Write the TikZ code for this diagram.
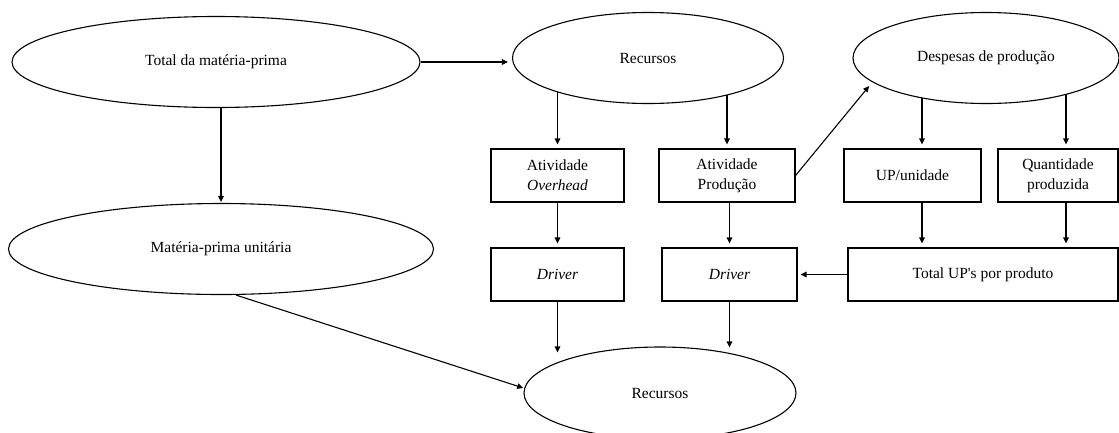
\documentclass[tikz,border=0pt]{standalone}
\usepackage{fontspec}
\setmainfont{Liberation Serif}[Ligatures=TeXOff]
\usetikzlibrary{shapes.geometric,arrows.meta,calc}
\pgfdeclarelayer{bg}
\pgfsetlayers{bg,main}
\begin{document}
\begin{tikzpicture}[x=1pt,y=-1pt,
  every node/.style={font=\fontsize{15.5}{20}\selectfont},
  oval/.style={draw, ellipse, fill=white, inner sep=0pt, line width=1.1pt},
  box/.style={draw, rectangle, fill=white, inner sep=0pt, align=center, line width=1.1pt, minimum height=53pt},
  arr/.style={-{Triangle[length=6pt,width=5.5pt]}, line width=1.1pt, shorten >=4pt}]
\useasboundingbox (0,0) rectangle (1119,432);
% ellipses
\node[oval, minimum width=408pt, minimum height=91pt] (e1) at (216,62) {Total da matéria-prima};
\node[oval, minimum width=271pt, minimum height=91pt] (e2) at (648,58) {Recursos};
\node[oval, minimum width=266pt, minimum height=91pt] (e3) at (986,58) {Despesas de produção};
\node[oval, minimum width=425pt, minimum height=91pt] (e4) at (221,249) {Matéria-prima unitária};
\node[oval, minimum width=272pt, minimum height=92pt] (e5) at (660,393) {Recursos};
% boxes
\node[box, minimum width=133pt] (a) at (557.5,175.5) {Atividade\\\textit{Overhead}};
\node[box, minimum width=136pt] (b) at (727,175.5) {Atividade\\Produção};
\node[box, minimum width=137pt] (c) at (912.5,175.5) {\raisebox{-4pt}{UP/unidade}};
\node[box, minimum width=120pt] (d) at (1058,175.5) {Quantidade\\produzida};
\node[box, minimum width=133pt] (d1) at (557.5,274.5) {\raisebox{-4pt}{\textit{Driver}}};
\node[box, minimum width=135pt] (d2) at (729.5,274.5) {\raisebox{-4pt}{\textit{Driver}}};
\node[box, minimum width=270pt] (g) at (983,274.5) {\raisebox{-4pt}{Total UP's por produto}};
\coordinate (cx) at ($(c.north)+(9.5,0)$);
\coordinate (dx) at ($(d.north)+(8,0)$);
\coordinate (cxs) at ($(c.south)+(9.5,0)$);
\coordinate (dxs) at ($(d.south)+(8,0)$);
\begin{pgfonlayer}{bg}
\draw[arr] (e1.center -| e1.east) -- (e1.center -| e2.west);
\draw[arr, shorten >=1pt] (e4.north |- e1.center) -- (e4.north);
\draw[arr] (a.north |- e2.center) -- (a.north);
\draw[arr] (b.north |- e2.center) -- (b.north);
\draw[arr] (cx |- e3.center) -- (cx);
\draw[arr] (dx |- e3.center) -- (dx);
\draw[arr] (a.south) -- (d1.north);
\draw[arr] (d2.north |- b.south) -- (d2.north);
\draw[arr] (cxs) -- (cxs |- g.north);
\draw[arr] (dxs) -- (dxs |- g.north);
\draw[arr, shorten >=-6pt] (d1.south) -- (d1.south |- e5.north);
\draw[arr, shorten >=-1pt] (d2.south) -- (d2.south |- e5.north);
\draw[arr, shorten >=3pt] (g.west) -- (d2.east);
\draw[arr, shorten >=5pt] (b.east) -- (e3.192);
\draw[arr, shorten >=1pt] ($(e4.south)+(15,0)$) -- (e5.178);
\end{pgfonlayer}
\end{tikzpicture}
\end{document}
